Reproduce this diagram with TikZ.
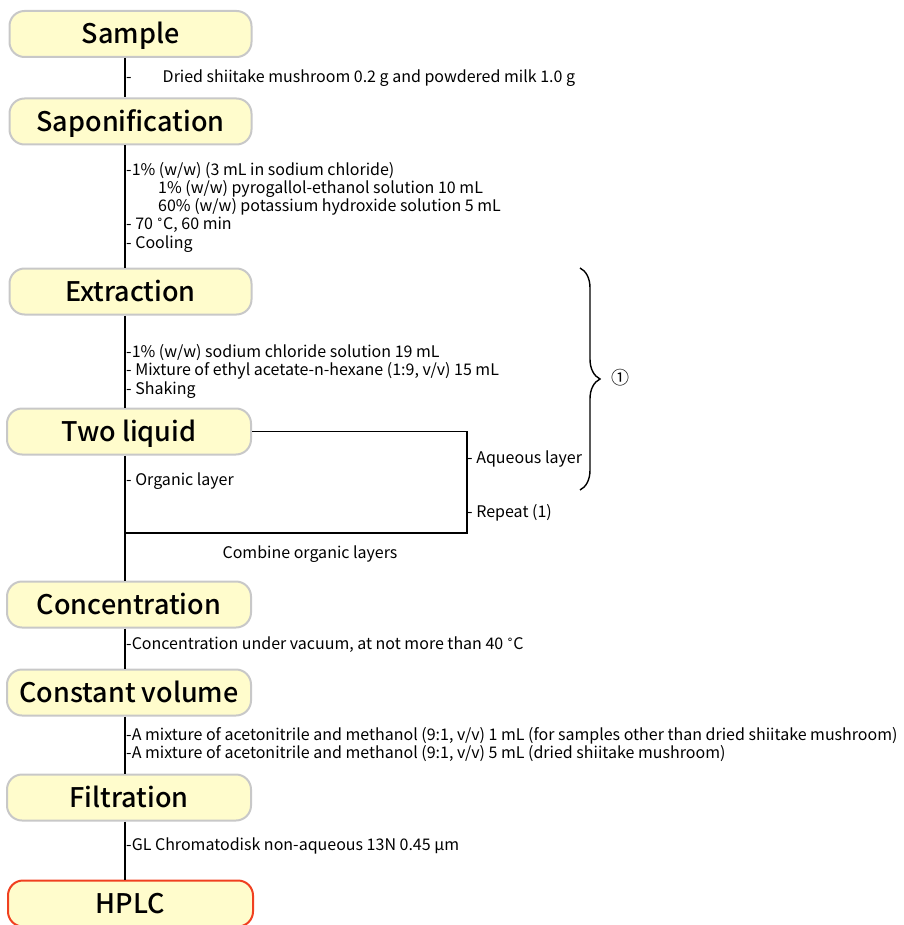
\documentclass[tikz,border=0pt]{standalone}
\usepackage{fontspec}
\setmainfont{Noto Sans CJK JP}[BoldFont={Noto Sans CJK JP Medium}]
\newfontfamily\symfont{DejaVu Sans}
\usetikzlibrary{decorations.pathreplacing}
\definecolor{boxfill}{RGB}{255,252,204}
\definecolor{boxline}{RGB}{200,200,200}
\definecolor{lastline}{RGB}{240,64,32}
\newcommand{\degr}{{\symfont\fontsize{13}{16}\selectfont ˚}}
\begin{document}
\begin{tikzpicture}[x=1pt,y=-1pt]
\tikzstyle{stepbox} = [draw=boxline, line width=2pt, fill=boxfill, rounded corners=15pt, minimum width=242pt, minimum height=46pt, text height=20pt, text depth=0pt, font=\fontsize{27}{30}\selectfont\bfseries]
\tikzstyle{note} = [anchor=base west, inner sep=0pt, font=\fontsize{16}{18}\selectfont]
\tikzstyle{edge} = [draw=black, line width=1.4pt]
\useasboundingbox (0,0) rectangle (903,925);

\node[stepbox] (sample) at (130.5,34) {Sample};
\node[stepbox] (sapon) at (130.5,121.5) {Saponification};
\node[stepbox] (extract) at (130.5,291.5) {Extraction};
\node[stepbox, minimum width=244pt] (twoliq) at (129,431.5) {Two liquid};
\node[stepbox, minimum width=244pt] (conc) at (129,604.5) {Concentration};
\node[stepbox, minimum width=244pt] (constvol) at (129,692.5) {Constant volume};
\node[stepbox, minimum width=244pt] (filt) at (129,797.5) {Filtration};
\node[stepbox, draw=lastline, minimum width=245pt] (hplc) at (130.5,903.5) {HPLC};

\coordinate (spine) at (125,0);
\coordinate (aqright) at (467,0);
\coordinate (combine) at (0,533);

\draw[edge] (sample.south -| spine) to (sapon.north -| spine);
\draw[edge] (sapon.south -| spine) to (extract.north -| spine);
\draw[edge] (extract.south -| spine) to (twoliq.north -| spine);
\draw[edge] (twoliq.south -| spine) to (conc.north -| spine);
\draw[edge] (conc.south -| spine) to (constvol.north -| spine);
\draw[edge] (constvol.south -| spine) to (filt.north -| spine);
\draw[edge] (filt.south -| spine) to (hplc.north -| spine);
\draw[edge] (twoliq.east) -- (twoliq.east -| aqright) -- (combine -| aqright) -- (combine -| spine);

\node[note] (n1) at (126,82.5) {-\hspace{31pt}Dried shiitake mushroom 0.2 g and powdered milk 1.0 g};
\node[note] (n2a) at (126,175.5) {-1\% (w/w) (3 mL in sodium chloride)};
\node[note] (n2b) at (158,193.5) {1\% (w/w) pyrogallol-ethanol solution 10 mL};
\node[note] (n2c) at (158,211.5) {60\% (w/w) potassium hydroxide solution 5 mL};
\node[note] (n2d) at (126,229.5) {- 70 \degr C, 60 min};
\node[note] (n2e) at (126,248.5) {- Cooling};
\node[note] (n3a) at (126,357.5) {-1\% (w/w) sodium chloride solution 19 mL};
\node[note] (n3b) at (126,375.5) {- Mixture of ethyl acetate-n-hexane (1:9, v/v) 15 mL};
\node[note] (n3c) at (126,394.5) {- Shaking};
\node[note] (organic) at (126,485.5) {- Organic layer};
\node[note] (aqueous) at (467,463.5) {- Aqueous layer};
\node[note] (repeat) at (467,517.5) {- Repeat (1)};
\node[note, anchor=base] (combtext) at (310,558.5) {Combine organic layers};
\node[note] (n5) at (126,649.5) {-Concentration under vacuum, at not more than 40 \degr C};
\node[note] (n6a) at (126,740.5) {-A mixture of acetonitrile and methanol (9:1, v/v) 1 mL (for samples other than dried shiitake mushroom)};
\node[note] (n6b) at (126,758.5) {-A mixture of acetonitrile and methanol (9:1, v/v) 5 mL (dried shiitake mushroom)};
\node[note] (n7) at (126,850.5) {-GL Chromatodisk non-aqueous 13N 0.45 µm};

\coordinate (brtop) at (580,268);
\coordinate (brbot) at (580,490);
\draw[line width=1.4pt, decorate, decoration={brace, amplitude=20pt}] (brtop) -- (brbot);
\node[note, anchor=center, font=\fontsize{18}{20}\selectfont] (circ) at (620,378) {①};
\end{tikzpicture}
\end{document}
